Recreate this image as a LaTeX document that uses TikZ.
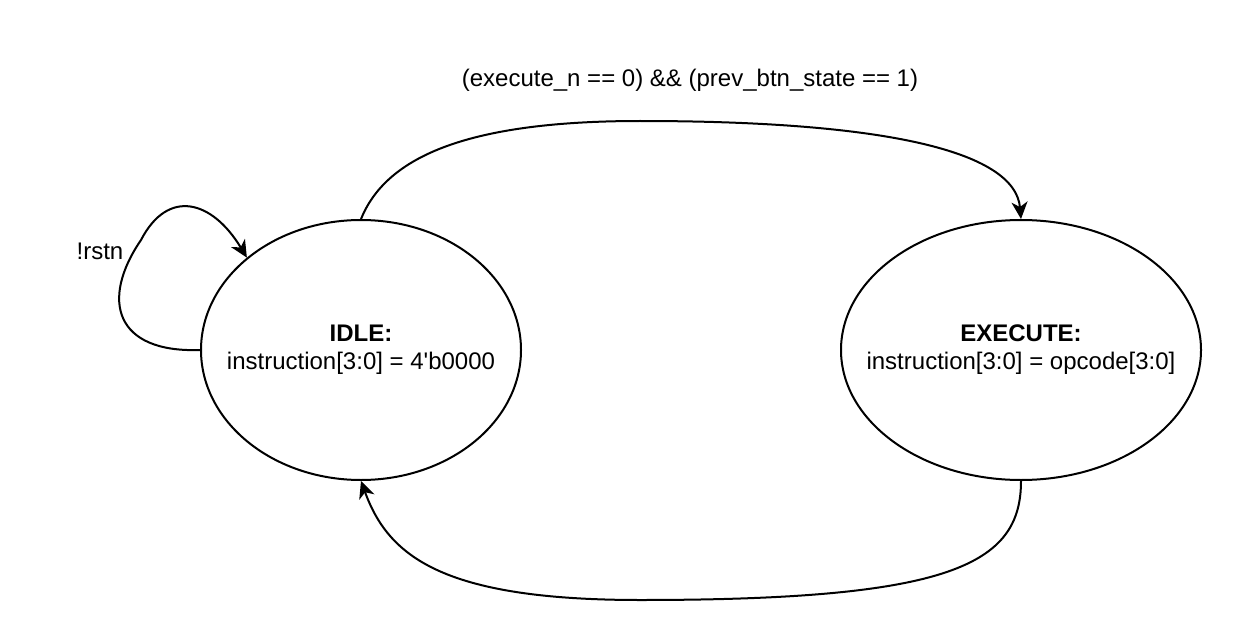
\documentclass[tikz,border=0pt]{standalone}
\usepackage{fontspec}
\setmainfont{Liberation Sans}[Ligatures=TeXOff]
\usetikzlibrary{arrows.meta,shapes.geometric}
\begin{document}
\begin{tikzpicture}[x=0.5pt,y=-0.5pt,
  state/.style={ellipse,draw,line width=1pt,inner sep=0pt,minimum height=130pt},
  stext/.style={align=center,font=\fontsize{12pt}{14pt}\selectfont},
  conn/.style={line width=1pt,-{Stealth[length=8.5pt,width=8pt,inset=2.5pt]}},
  lbl/.style={font=\fontsize{12pt}{14pt}\selectfont}]
\useasboundingbox (0,0) rectangle (1242,642);
\node[state,minimum width=160pt] (idle) at (361,350) {};
\node[state,minimum width=180pt] (exec) at (1021,350) {};
\node[stext] (idlet) at (idle.center) {\textbf{IDLE:}\\instruction[3:0] = 4'b0000};
\node[stext] (exect) at (exec.center) {\textbf{EXECUTE:}\\instruction[3:0] = opcode[3:0]};
\coordinate (top) at (640,121);
\coordinate (bot) at (640,600);
\coordinate (loopmid) at (141,240);
\draw[conn] (idle.north) .. controls (385,160) and (460,121) .. (top)
  .. controls (880,121) and (1015,150) .. (exec.north);
\draw[conn] (exec.south) .. controls (1021,565) and (950,600) .. (bot)
  .. controls (440,600) and (388,555) .. (idle.south);
\draw[conn] (idle.west) .. controls (115,353) and (100,300) .. (loopmid)
  .. controls (168,188) and (212,200) .. (idle.141);
\node[lbl] (rstn) at (100,251) {!rstn};
\node[lbl] (cond) at (690,80) {(execute\_n == 0) \&\& (prev\_btn\_state == 1)};
\end{tikzpicture}
\end{document}
